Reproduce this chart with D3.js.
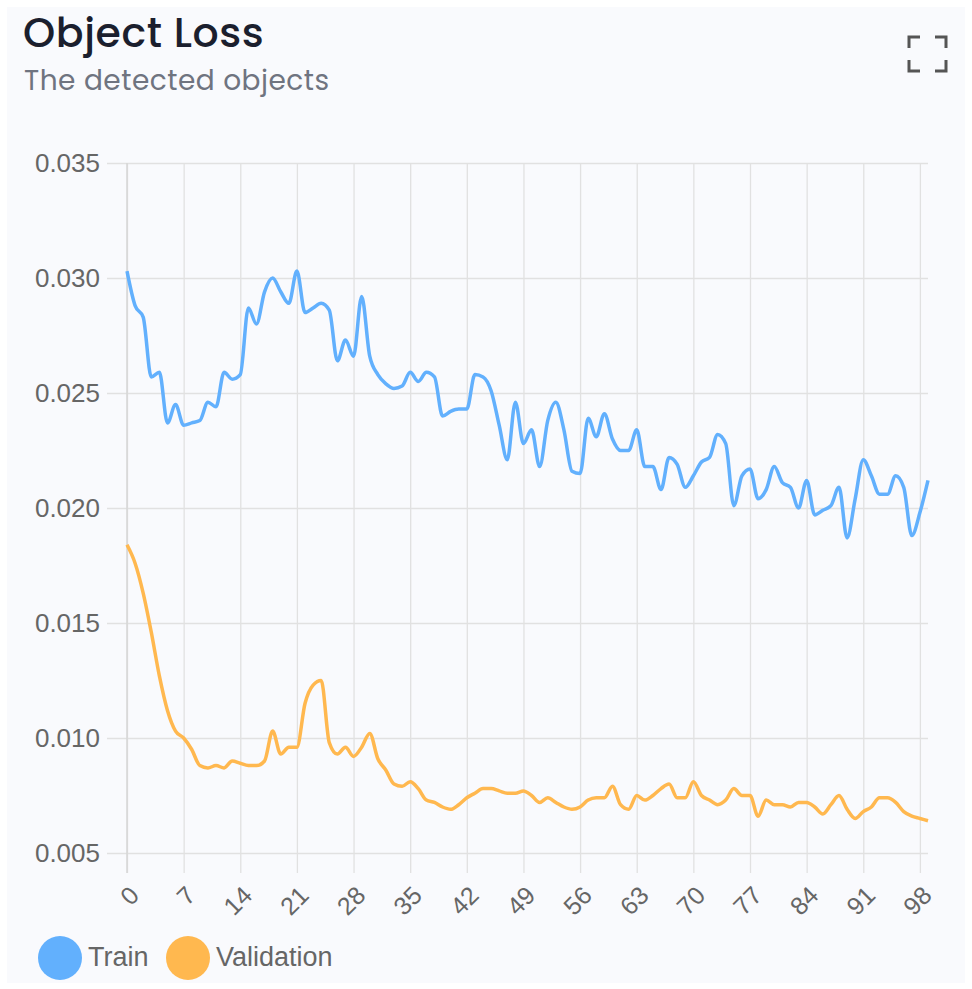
<!DOCTYPE html>
<html>
<head>
<meta charset="utf-8">
<script src="https://cdn.jsdelivr.net/npm/d3@7"></script>
<style>
  html, body { margin: 0; padding: 0; background: #ffffff; }
  #card { position: absolute; left: 7px; top: 7px; width: 958px; height: 976px; background: #f9fafd; }
  svg { position: absolute; left: 0; top: 0; }
</style>
</head>
<body>
<div id="card"></div>
<div id="chart"></div>
<script>
// ----------------------------------------------------------------------------------------------------
// DATA
// ----------------------------------------------------------------------------------------------------
var epochs = d3.range(0, 100);
var xTicks = [0, 7, 14, 21, 28, 35, 42, 49, 56, 63, 70, 77, 84, 91, 98];
var yTicks = [0.005, 0.010, 0.015, 0.020, 0.025, 0.030, 0.035];
var seriesNames = ["Train", "Validation"];
var seriesColors = ["#62b0fd", "#ffb84f"];

var trainLoss = [
    0.0303, 0.0288, 0.0283, 0.0257, 0.0259, 0.0237, 0.0245, 0.0236, 0.0237, 0.0238,
    0.0246, 0.0244, 0.0259, 0.0256, 0.0258, 0.0287, 0.0280, 0.0294, 0.0300, 0.0294,
    0.0289, 0.0303, 0.0285, 0.0287, 0.0289, 0.0286, 0.0264, 0.0273, 0.0266, 0.0292,
    0.0266, 0.0258, 0.0254, 0.0252, 0.0253, 0.0259, 0.0255, 0.0259, 0.0257, 0.0240,
    0.0242, 0.0243, 0.0243, 0.0258, 0.0257, 0.0251, 0.0236, 0.0221, 0.0246, 0.0228,
    0.0234, 0.0218, 0.0238, 0.0246, 0.0234, 0.0216, 0.0215, 0.0239, 0.0231, 0.0241,
    0.0230, 0.0225, 0.0225, 0.0234, 0.0218, 0.0218, 0.0208, 0.0222, 0.0219, 0.0209,
    0.0214, 0.0220, 0.0222, 0.0232, 0.0228, 0.0201, 0.0214, 0.0217, 0.0204, 0.0208,
    0.0218, 0.0211, 0.0209, 0.0200, 0.0212, 0.0197, 0.0199, 0.0201, 0.0209, 0.0187,
    0.0204, 0.0221, 0.0214, 0.0206, 0.0206, 0.0214, 0.0209, 0.0188, 0.0198, 0.0212
];

var validationLoss = [
    0.0184, 0.0176, 0.0163, 0.0146, 0.0127, 0.0112, 0.0103, 0.0100, 0.0095, 0.0088,
    0.0087, 0.0088, 0.0087, 0.0090, 0.0089, 0.0088, 0.0088, 0.0090, 0.0103, 0.0093,
    0.0096, 0.0096, 0.0115, 0.0123, 0.0125, 0.0098, 0.0093, 0.0096, 0.0092, 0.0096,
    0.0102, 0.0091, 0.0086, 0.0080, 0.0079, 0.0081, 0.0078, 0.0073, 0.0072, 0.0070,
    0.0069, 0.0071, 0.0074, 0.0076, 0.0078, 0.0078, 0.0077, 0.0076, 0.0076, 0.0077,
    0.0075, 0.0072, 0.0074, 0.0072, 0.0070, 0.0069, 0.0070, 0.0073, 0.0074, 0.0074,
    0.0079, 0.0071, 0.0069, 0.0075, 0.0073, 0.0075, 0.0078, 0.0080, 0.0074, 0.0074,
    0.0081, 0.0075, 0.0073, 0.0071, 0.0073, 0.0078, 0.0075, 0.0075, 0.0066, 0.0073,
    0.0071, 0.0071, 0.0070, 0.0072, 0.0072, 0.0070, 0.0067, 0.0071, 0.0075, 0.0069,
    0.0065, 0.0068, 0.0070, 0.0074, 0.0074, 0.0072, 0.0068, 0.0066, 0.0065, 0.0064
];

// ----------------------------------------------------------------------------------------------------
// CHART
// ----------------------------------------------------------------------------------------------------
function chartObjectLoss_Draw(ele) {
    ele = "#" + ele;
    d3.select(ele).selectAll("svg").remove();

    var w = 972, h = 989;
    var left = 127, right = 928, top = 163, bottom = 853;
    var axisFont = "'Liberation Sans', Arial, sans-serif";

    var svg = d3.select(ele)
        .append("svg")
        .attr("width", w)
        .attr("height", h);

    // Header
    svg.append("text")
        .attr("x", 23).attr("y", 47)
        .attr("font-family", "Poppins, 'Noto Sans', sans-serif")
        .attr("font-size", "41px")
        .attr("font-weight", "500")
        .attr("letter-spacing", "0.6px")
        .attr("fill", "#1b1f2e")
        .text("Object Loss");

    svg.append("text")
        .attr("x", 24).attr("y", 90)
        .attr("font-family", "Poppins, 'Noto Sans', sans-serif")
        .attr("font-size", "28px")
        .attr("letter-spacing", "0.5px")
        .attr("fill", "#6f7480")
        .text("The detected objects");

    // Fullscreen icon
    var icon = svg.append("g")
        .attr("fill", "none")
        .attr("stroke", "#555555")
        .attr("stroke-width", 3);
    icon.append("path").attr("d", "M909,48 V37 H920");
    icon.append("path").attr("d", "M935,37 H946 V48");
    icon.append("path").attr("d", "M909,60 V71 H920");
    icon.append("path").attr("d", "M935,71 H946 V60");

    // Scales
    var x = d3.scaleLinear().domain([0, 99]).range([left, right]);
    var y = d3.scaleLinear().domain([0.005, 0.035]).range([bottom, top]);

    // Grid + axes
    var yAxis = d3.axisLeft(y)
        .tickValues(yTicks)
        .tickSize(0)
        .tickFormat(d3.format(".3f"));

    var gy = svg.append("g")
        .attr("transform", "translate(" + (left - 20) + ",0)")
        .call(yAxis);
    gy.select(".domain").remove();
    gy.selectAll(".tick line").attr("stroke", "#e1e1e1").attr("stroke-width", 1.3)
        .attr("x1", 0).attr("x2", right - left + 20);
    gy.selectAll(".tick text")
        .attr("x", -7)
        .attr("font-family", axisFont)
        .attr("font-size", "26px")
        .attr("fill", "#666666");

    var xAxis = d3.axisBottom(x)
        .tickValues(xTicks)
        .tickSize(-(bottom - top) - 20)
        .tickFormat(d3.format("d"));

    var gx = svg.append("g")
        .attr("transform", "translate(0," + (bottom + 20) + ")")
        .call(xAxis);
    gx.select(".domain").remove();
    gx.selectAll(".tick line").attr("stroke", "#e1e1e1").attr("stroke-width", 1.3);
    gx.selectAll(".tick text")
        .attr("font-family", axisFont)
        .attr("font-size", "25px")
        .attr("fill", "#666666")
        .attr("text-anchor", "end")
        .attr("dy", null)
        .attr("y", 0)
        .attr("transform", "translate(13,24) rotate(-45)");

    // axis line at left
    svg.append("line")
        .attr("x1", x(0)).attr("x2", x(0))
        .attr("y1", top).attr("y2", bottom + 20)
        .attr("stroke", "#d6d6d6").attr("stroke-width", 1.5);

    // Lines
    var line = d3.line()
        .x(function(d, i) { return x(epochs[i]); })
        .y(function(d) { return y(d); })
        .curve(d3.curveMonotoneX);

    [trainLoss, validationLoss].forEach(function(data, k) {
        svg.append("path")
            .datum(data)
            .attr("fill", "none")
            .attr("stroke", seriesColors[k])
            .attr("stroke-width", 3.5)
            .attr("stroke-linejoin", "round")
            .attr("d", line);
    });

    // Legend
    var legendX = [60, 188];
    seriesNames.forEach(function(name, k) {
        svg.append("circle")
            .attr("cx", legendX[k]).attr("cy", 958).attr("r", 22)
            .attr("fill", seriesColors[k]);
        svg.append("text")
            .attr("x", legendX[k] + 28).attr("y", 966)
            .attr("font-family", axisFont)
            .attr("font-size", "27px")
            .attr("fill", "#666666")
            .text(name);
    });
}

chartObjectLoss_Draw("chart");
</script>
</body>
</html>
